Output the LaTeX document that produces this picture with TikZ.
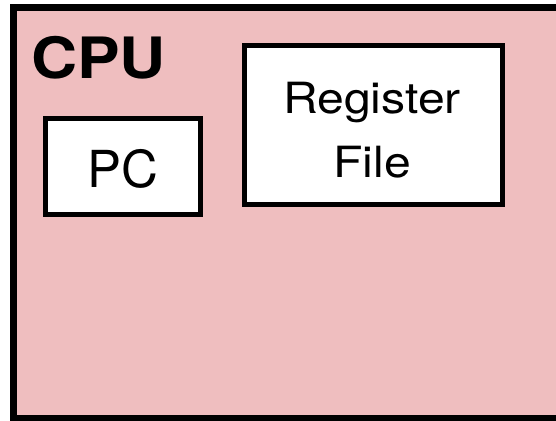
\documentclass[tikz,border=0pt]{standalone}
\usepackage{fontspec}
\setmainfont{TeX Gyre Heros}
\newfontfamily\widefont[FakeStretch=1.12]{TeX Gyre Heros}
\newfontfamily\cpufont[FakeStretch=1.12]{TeX Gyre Heros}
\definecolor{cpupink}{RGB}{239,190,191}
\begin{document}
\begin{tikzpicture}[x=1pt,y=-1pt,
  unitbox/.style={draw=black,line width=5pt,fill=white,rectangle,inner sep=0pt},
  lbl/.style={inner sep=0pt,anchor=base}]
\useasboundingbox (0,0) rectangle (556,420);
\clip (0,0) rectangle (556,420);
\fill[white] (0,0) rectangle (556,420);
\draw[line width=7pt,fill=cpupink] (13.5,7.5) rectangle (640,418.5);
\node[lbl,anchor=base west] (cpulabel) at (31,78) {\cpufont\fontsize{57}{60}\selectfont\bfseries CPU};
\node[unitbox,minimum width=155pt,minimum height=96pt] (pc) at (122.5,166.5) {};
\node[unitbox,minimum width=258.5pt,minimum height=159pt] (rf) at (373.25,125) {};
\node[lbl] (pclabel) at (123,187) {\fontsize{51}{60}\selectfont PC};
\node[lbl] (rflabel1) at (372,113) {\widefont\fontsize{43}{60}\selectfont Register};
\node[lbl] (rflabel2) at (372,177) {\widefont\fontsize{43}{60}\selectfont File};
\end{tikzpicture}
\end{document}
